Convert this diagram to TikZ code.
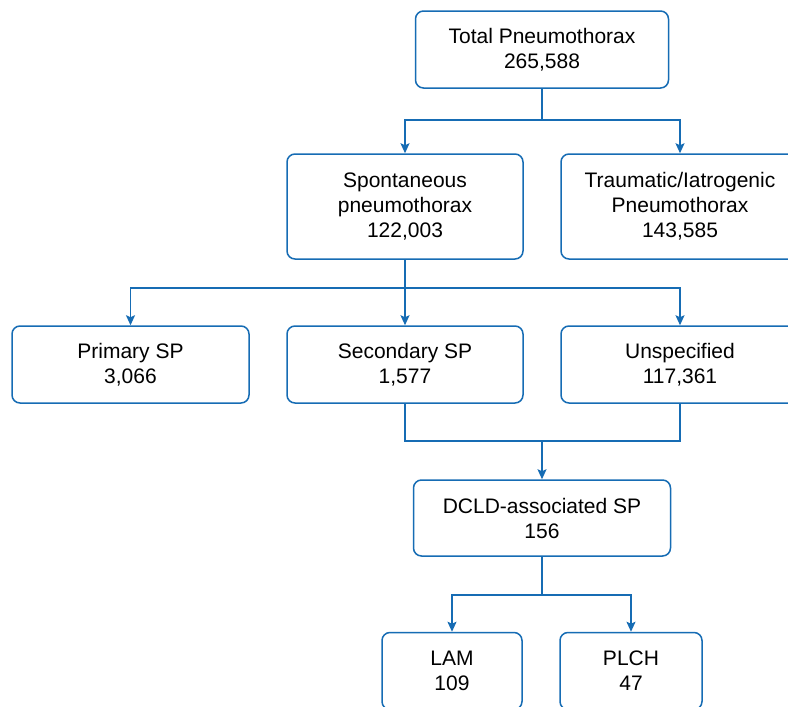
\documentclass[tikz,border=0pt]{standalone}
\usepackage{fontspec}
\setmainfont{Liberation Sans}
\usetikzlibrary{arrows.meta}
\definecolor{lineblue}{RGB}{22,108,180}
\tikzset{
  box/.style={draw=lineblue, line width=1.5pt, rounded corners=8pt, align=center,
    font=\fontsize{21}{25}\selectfont, text=black, inner sep=0pt},
  conn/.style={draw=lineblue, line width=1.6pt},
  arr/.style={conn, -{Stealth[length=10pt,width=9pt,inset=2pt]}}
}
\begin{document}
\begin{tikzpicture}[x=1pt,y=-1pt]
\useasboundingbox (0,0) rectangle (788,707);
\clip (0,0) rectangle (788,707);
\fill[white] (0,0) rectangle (788,707);
\node[box, minimum width=253pt, minimum height=77pt] (total) at (542,49.5) {Total Pneumothorax\\265,588};
\node[box, minimum width=236pt, minimum height=105pt] (spont) at (405,206.5) {Spontaneous\\pneumothorax\\122,003};
\node[box, minimum width=238pt, minimum height=105pt] (traum) at (680,206.5) {Traumatic/Iatrogenic\\Pneumothorax\\143,585};
\node[box, minimum width=237pt, minimum height=77pt] (prim) at (130.5,364.5) {Primary SP\\3,066};
\node[box, minimum width=236pt, minimum height=77pt] (second) at (405,364.5) {Secondary SP\\1,577};
\node[box, minimum width=238pt, minimum height=77pt] (unspec) at (680,364.5) {Unspecified\\117,361};
\node[box, minimum width=257pt, minimum height=76pt] (dcld) at (542,518) {DCLD-associated SP\\156};
\node[box, minimum width=140pt, minimum height=77pt] (lam) at (452,671) {LAM\\109};
\node[box, minimum width=142pt, minimum height=77pt] (plch) at (631,671) {PLCH\\47};
\coordinate (j1) at (total.south |- 0,120);
\coordinate (j2) at (spont.south |- 0,288);
\coordinate (j3) at (dcld.north |- 0,441);
\coordinate (j4) at (dcld.south |- 0,595);
\draw[conn] (total.south) -- (j1);
\draw[arr] (j1) -| (spont.north);
\draw[arr] (j1) -| (traum.north);
\draw[conn] (spont.south) -- (j2);
\draw[arr] (j2) -| (prim.north);
\draw[arr] (j2) -- (second.north);
\draw[arr] (j2) -| (unspec.north);
\draw[conn] (second.south) -- (second.south |- j3) -| (unspec.south);
\draw[arr] (j3) -- (dcld.north);
\draw[conn] (dcld.south) -- (j4);
\draw[arr] (j4) -| (lam.north);
\draw[arr] (j4) -| (plch.north);
\end{tikzpicture}
\end{document}
